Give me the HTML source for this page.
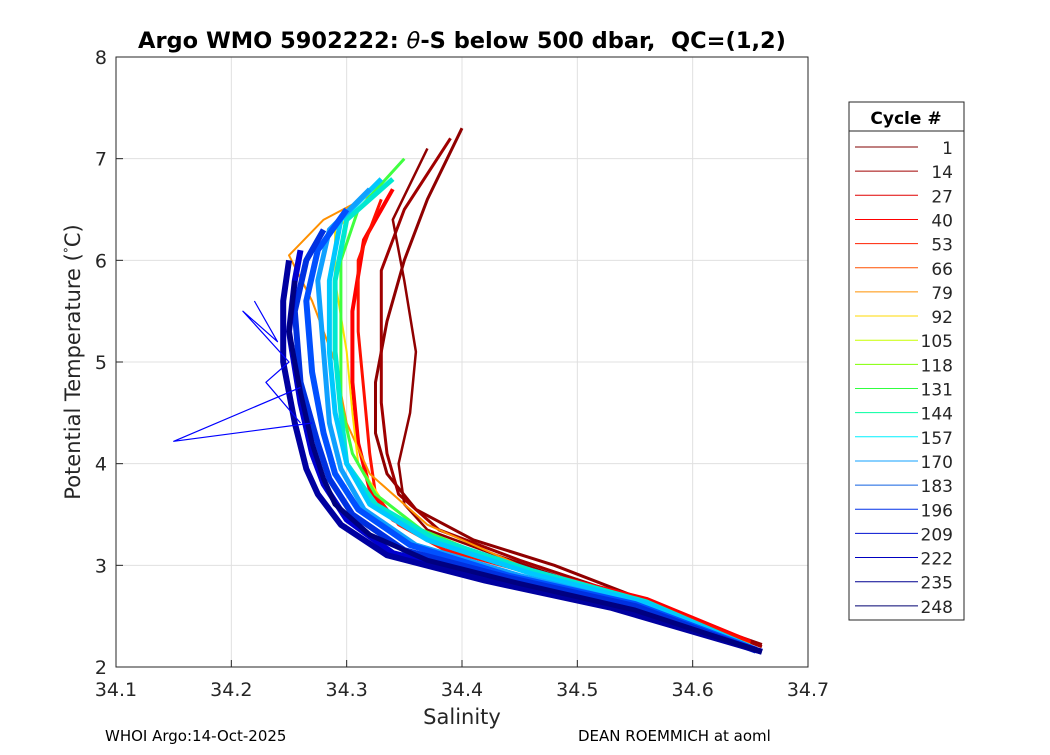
<!DOCTYPE html>
<html><head><meta charset="utf-8"><style>
body{margin:0;background:#fff;font-family:"Liberation Sans",sans-serif}
svg text{font-family:"DejaVu Sans","Liberation Sans",sans-serif}
</style></head><body>
<svg id="c" width="1050" height="750" viewBox="0 0 1050 750" xmlns="http://www.w3.org/2000/svg">
<rect width="1050" height="750" fill="#fff"/>
<rect x="116" y="57" width="692" height="610" fill="#fff"/>
<g id="grid"></g><g id="series"></g>
<rect x="116" y="57" width="692" height="610" fill="none" stroke="#262626" stroke-width="1"/>
<g id="ticks"></g>
<text x="462" y="48" text-anchor="middle" font-size="22.5" font-weight="bold" xml:space="preserve">Argo WMO 5902222: <tspan font-style="italic" font-weight="normal">θ</tspan>-S below 500 dbar,  QC=(1,2)</text>
<text x="462" y="724" text-anchor="middle" font-size="21" fill="#262626">Salinity</text>
<text transform="translate(80,362) rotate(-90)" text-anchor="middle" font-size="21" fill="#262626">Potential Temperature (<tspan baseline-shift="super" font-size="12">°</tspan>C)</text>
<text x="105" y="741" font-size="15">WHOI Argo:14-Oct-2025</text>
<text x="578" y="741" font-size="15">DEAN ROEMMICH at aoml</text>
<g id="legend">
<rect x="849" y="102" width="115" height="518" fill="#fff" stroke="#262626"/>
<line x1="849" y1="131" x2="964" y2="131" stroke="#262626"/>
<text x="906" y="124" text-anchor="middle" font-size="17" font-weight="bold">Cycle #</text>
</g>
</svg>
<script>
const xTicks=[34.1,34.2,34.3,34.4,34.5,34.6,34.7];
const yTicks=[2,3,4,5,6,7,8];
const legendCycles=[1,14,27,40,53,66,79,92,105,118,131,144,157,170,183,196,209,222,235,248];
const legendColors=["#800000","#a00000","#e00000","#ff0000","#ff2000","#ff5000","#ff9000","#ffd800","#c8ff00","#80ff00","#30ff40","#00ffa0","#00f0ff","#10a0ff","#1060e0","#0030e8","#0010d0","#0000c0","#000090","#000070"];
const curveColors=["#900000","#a00000","#900000","#ff0000","#ff1000","#ff9000","#ffe000","#40ff40","#00e8d0","#00c8ff","#10a0ff","#0050ff","#0030e0","#0000d0","#0000a0","#000080","#0000ff","#0000ff"];
const curveS=[
[34.40,34.37,34.35,34.335,34.325,34.325,34.335,34.36,34.41,34.48,34.56,34.62,34.66],
[34.39,34.35,34.33,34.33,34.33,34.335,34.345,34.38,34.45,34.55,34.66],
[34.37,34.34,34.35,34.36,34.355,34.345,34.35,34.37,34.43,34.52,34.63],
[34.34,34.315,34.305,34.305,34.31,34.32,34.34,34.38,34.46,34.56,34.65],
[34.33,34.31,34.31,34.315,34.32,34.325,34.345,34.385,34.46,34.56,34.65],
[34.33,34.28,34.25,34.27,34.29,34.30,34.32,34.37,34.45,34.55,34.65],
[34.33,34.29,34.29,34.30,34.305,34.31,34.33,34.37,34.45,34.55,34.65],
[34.35,34.31,34.295,34.295,34.295,34.305,34.325,34.365,34.44,34.55,34.65],
[34.34,34.30,34.29,34.29,34.295,34.30,34.325,34.375,34.46,34.56,34.65],
[34.33,34.295,34.285,34.285,34.29,34.30,34.32,34.37,34.46,34.56,34.65],
[34.32,34.285,34.275,34.28,34.285,34.295,34.315,34.36,34.45,34.55,34.65],
[34.30,34.275,34.265,34.27,34.28,34.29,34.31,34.355,34.44,34.55,34.655],
[34.28,34.265,34.255,34.26,34.275,34.285,34.305,34.35,34.44,34.55,34.655],
[34.26,34.255,34.25,34.26,34.27,34.28,34.30,34.34,34.43,34.54,34.66],
[34.25,34.245,34.245,34.255,34.265,34.275,34.295,34.335,34.42,34.53,34.66],
[34.255,34.25,34.26,34.27,34.28,34.29,34.32,34.37,34.45,34.55,34.66],
[34.27,34.15,34.26],
[34.22,34.24,34.21,34.25,34.23,34.26]];
const curveT=[
[7.3,6.6,6.0,5.4,4.8,4.3,3.9,3.55,3.25,3.0,2.65,2.38,2.22],
[7.2,6.5,5.9,5.2,4.6,4.1,3.7,3.35,3.05,2.67,2.2],
[7.1,6.4,5.8,5.1,4.5,4.0,3.6,3.35,3.1,2.75,2.3],
[6.7,6.2,5.5,4.8,4.2,3.75,3.45,3.2,2.95,2.67,2.25],
[6.6,6.0,5.3,4.7,4.1,3.7,3.4,3.15,2.92,2.65,2.24],
[6.7,6.4,6.05,5.6,5.0,4.4,3.9,3.4,3.0,2.65,2.22],
[6.7,6.3,5.8,5.1,4.5,4.0,3.65,3.3,2.98,2.65,2.22],
[7.0,6.5,6.0,5.2,4.6,4.1,3.7,3.35,3.0,2.65,2.2],
[6.8,6.4,5.8,5.1,4.5,4.0,3.6,3.27,2.95,2.64,2.2],
[6.8,6.4,5.8,5.1,4.5,4.0,3.6,3.25,2.92,2.63,2.2],
[6.7,6.3,5.8,5.1,4.4,3.95,3.55,3.2,2.9,2.62,2.19],
[6.5,6.1,5.6,4.9,4.3,3.9,3.55,3.2,2.9,2.62,2.17],
[6.3,6.0,5.5,4.8,4.2,3.85,3.5,3.15,2.88,2.6,2.16],
[6.1,5.8,5.3,4.6,4.1,3.8,3.45,3.12,2.86,2.58,2.15],
[6.0,5.6,5.0,4.4,3.95,3.7,3.4,3.1,2.85,2.58,2.15],
[5.8,5.3,4.7,4.2,3.85,3.6,3.3,3.05,2.82,2.56,2.15],
[4.4,4.22,4.75],
[5.6,5.2,5.5,5.0,4.8,4.4]];
const curveWidths=[3,3,2.5,4,3,2,2,3,5,5,5,6,6,6,6,5,1.2,1.2];
const X=s=>116+(s-34.1)/0.6*692, Y=t=>667-(t-2)/6*610;
const NS="http://www.w3.org/2000/svg";
function mk(tag,attrs,parent){const e=document.createElementNS(NS,tag);for(const k in attrs)e.setAttribute(k,attrs[k]);parent.appendChild(e);return e;}
const grid=document.getElementById('grid'),ticks=document.getElementById('ticks');
xTicks.forEach(v=>{const x=X(v);
 const g=mk('line',{x1:x,x2:x,y1:57,y2:667,stroke:'#e0e0e0'},grid);
 
 
 mk('line',{x1:x,x2:x,y1:667,y2:660,stroke:'#262626'},ticks);
 const t=mk('text',{x:x,y:696,'text-anchor':'middle','font-size':19,fill:'#262626'},ticks);t.textContent=v.toFixed(1);
 
 });
yTicks.forEach(v=>{const y=Y(v);
 const g=mk('line',{x1:116,x2:808,y1:y,y2:y,stroke:'#e0e0e0'},grid);
 
 
 mk('line',{x1:116,x2:123,y1:y,y2:y,stroke:'#262626'},ticks);
 const t=mk('text',{x:107,y:y+7,'text-anchor':'end','font-size':19,fill:'#262626'},ticks);t.textContent=v;
 
 });
const ser=document.getElementById('series');
curveS.forEach((S,i)=>{const d=S.map((s,j)=>(j?'L':'M')+X(s).toFixed(1)+','+Y(curveT[i][j]).toFixed(1)).join('');
 const p=mk('path',{d:d,fill:'none',stroke:curveColors[i],'stroke-width':curveWidths[i],'stroke-linejoin':'round'},ser);
 
 });
const lg=document.getElementById('legend');
legendCycles.forEach((c,i)=>{const y=147+i*24.15;
 const l=mk('line',{x1:855,x2:918,y1:y,y2:y,stroke:legendColors[i],'stroke-width':1},lg);
 
 
 const t=mk('text',{x:953,y:y+7,'text-anchor':'end','font-size':17,fill:'#262626'},lg);t.textContent=c;
 
 });
</script>
</body></html>
